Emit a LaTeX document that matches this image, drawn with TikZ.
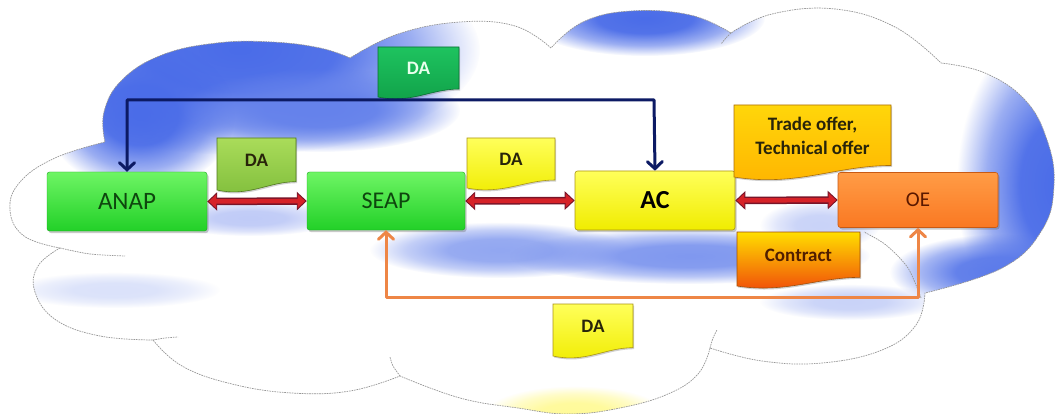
\documentclass[tikz,border=0pt]{standalone}
\usepackage{fontspec}
\setmainfont{Carlito}
\usetikzlibrary{arrows.meta,shadows,fadings}

% radial fading: solid core, soft rim reaching full transparency at the path's edge
\pgfdeclareradialshading{blobprofile}{\pgfpointorigin}{color(0bp)=(white); color(10bp)=(white!95!black); color(18bp)=(white!55!black); color(25bp)=(black); color(50bp)=(black)}
\pgfdeclarefading{softblob}{\pgfuseshading{blobprofile}}

\definecolor{cloudblue}{RGB}{74,108,232}
\definecolor{cloudline}{RGB}{150,150,150}
\definecolor{navyline}{RGB}{12,26,100}
\definecolor{orangeline}{RGB}{238,134,70}
\definecolor{arrowred}{RGB}{214,34,40}
\definecolor{arrowdark}{RGB}{120,20,40}
\definecolor{greentop}{RGB}{110,245,100}
\definecolor{greenbot}{RGB}{34,208,40}
\definecolor{greentext}{RGB}{14,70,14}
\definecolor{yellowtop}{RGB}{255,255,90}
\definecolor{yellowbot}{RGB}{240,236,0}
\definecolor{yellowedge}{RGB}{170,150,20}
\definecolor{orangetop}{RGB}{255,156,70}
\definecolor{orangebot}{RGB}{250,120,34}
\definecolor{orangeedge}{RGB}{200,90,20}
\definecolor{oetext}{RGB}{90,24,0}
\definecolor{dagtop}{RGB}{30,195,95}
\definecolor{dagbot}{RGB}{16,160,72}
\definecolor{dagedge}{RGB}{10,110,50}
\definecolor{daltop}{RGB}{170,220,90}
\definecolor{dalbot}{RGB}{128,190,60}
\definecolor{daledge}{RGB}{80,120,30}
\definecolor{tradetop}{RGB}{255,214,10}
\definecolor{tradebot}{RGB}{255,180,0}
\definecolor{tradeedge}{RGB}{170,110,10}
\definecolor{contop}{RGB}{255,222,0}
\definecolor{conmid}{RGB}{255,165,0}
\definecolor{conbot}{RGB}{240,70,10}
\definecolor{conedge}{RGB}{160,80,10}
\definecolor{doctextdark}{RGB}{40,36,10}
\definecolor{datextlight}{RGB}{232,255,236}
\definecolor{contracttext}{RGB}{80,30,0}

% cloud outline, one smooth arc per lobe
\newcommand\cloudshape{%
  plot[smooth,tension=0.7] coordinates {(60,248) (24,236) (10,210) (20,182) (55,158) (105,142)}
  -- plot[smooth,tension=0.7] coordinates {(105,142) (104,112) (122,80) (162,55) (217,43) (272,42) (320,48) (350,58)}
  -- plot[smooth,tension=0.7] coordinates {(350,58) (398,34) (460,22) (515,26) (551,48)}
  -- plot[smooth,tension=0.7] coordinates {(551,48) (583,22) (631,11) (690,15) (731,33)}
  -- plot[smooth,tension=0.7] coordinates {(731,33) (772,14) (835,9) (895,27) (941,63)}
  -- plot[smooth,tension=0.7] coordinates {(941,63) (985,73) (1025,100) (1047,140) (1054,185) (1042,230) (1002,268) (925,293)}
  -- plot[smooth,tension=0.7] coordinates {(925,293) (916,325) (882,350) (822,363) (762,361) (710,348)}
  -- plot[smooth,tension=0.7] coordinates {(710,348) (698,374) (668,394) (620,408) (568,414) (518,408) (460,398) (400,376)}
  -- plot[smooth,tension=0.7] coordinates {(400,376) (350,391) (292,393) (232,384) (182,366) (153,340)}
  -- plot[smooth,tension=0.7] coordinates {(153,340) (100,336) (56,320) (35,292) (38,266) (60,248)}
  -- cycle}

% soft coloured patch fading out to its rim: centre, radii, colour
\newcommand\blob[5]{\fill[#5, path fading=softblob] (#1,#2) ellipse ({#3} and {#4});}

% document shape with a wavy lower edge: name, x0, y0, x1, y1, fill style, text colour, text
\newcommand\docbox[8]{%
  \shade[docshape,#6] (#2,#3) -- (#4,#3) -- (#4,{#5-0.16*(#5-#3)})
    .. controls ({#4-0.35*(#4-#2)},{#5-0.16*(#5-#3)}) and ({#2+0.4*(#4-#2)},{#5+0.14*(#5-#3)}) .. (#2,#5) -- cycle;
  \node[doctext, text=#7] (#1) at ({(#2+#4)/2},{#3+0.43*(#5-#3)}) {#8};
}

\tikzset{
  cloudedge/.style={draw=cloudline, line width=0.7pt, dash pattern=on 1.6pt off 0.9pt},
  box/.style={rectangle, rounded corners=2.5pt, inner sep=0pt,
    drop shadow={shadow xshift=1.5pt, shadow yshift=-2pt, opacity=0.35, fill=black!60}},
  greenbox/.style={box, top color=greentop, bottom color=greenbot, draw=greenbot!80!black,
    line width=0.4pt, text=greentext},
  yellowbox/.style={box, top color=yellowtop, bottom color=yellowbot, draw=yellowedge, line width=0.6pt},
  orangebox/.style={box, top color=orangetop, bottom color=orangebot, draw=orangeedge,
    line width=0.6pt, text=oetext},
  docshape/.style={line width=0.6pt, drop shadow={shadow xshift=1.2pt, shadow yshift=-1.5pt, opacity=0.3, fill=black!60}},
  doctext/.style={inner sep=0pt, align=center, font=\bfseries\fontsize{19}{24}\selectfont},
  dagreen/.style={top color=dagtop, bottom color=dagbot, draw=dagedge},
  dalight/.style={top color=daltop, bottom color=dalbot, draw=daledge},
  dayellow/.style={top color=yellowtop, bottom color=yellowbot, draw=yellowedge},
  tradefill/.style={top color=tradetop, bottom color=tradebot, draw=tradeedge},
  contractfill/.style={top color=contop, middle color=conmid, bottom color=conbot, draw=conedge},
  linkarrow/.style={line width=3pt, line join=round, {Straight Barb[length=7pt,width=15pt,line cap=round]}-{Straight Barb[length=7pt,width=15pt,line cap=round]}},
  redback/.style={line width=7.5pt, draw=arrowdark, {Triangle[length=10pt,width=18pt]}-{Triangle[length=10pt,width=18pt]}},
  redfront/.style={line width=4.5pt, draw=arrowred, shorten <=1.6pt, shorten >=1.6pt, {Triangle[length=7.5pt,width=13.5pt]}-{Triangle[length=7.5pt,width=13.5pt]}}
}

\begin{document}
\begin{tikzpicture}[x=1pt,y=-1pt]
\useasboundingbox (0,0) rectangle (1062,414);
\fill[white] (0,0) rectangle (1062,414);

% cloud body
\fill[white] \cloudshape;
\begin{scope}
  \clip \cloudshape;
  \blob{240}{50}{240}{105}{cloudblue}
  \blob{140}{115}{95}{75}{cloudblue}
  \blob{320}{110}{140}{42}{cloudblue!85}
  \blob{645}{18}{120}{38}{cloudblue}
  \blob{1062}{185}{105}{165}{cloudblue}
  \blob{1000}{272}{110}{38}{cloudblue!90}
  \blob{500}{250}{130}{28}{cloudblue!60}
  \blob{690}{256}{180}{28}{cloudblue!70}
  \blob{820}{225}{60}{25}{cloudblue!30}
  \blob{850}{302}{90}{18}{cloudblue!30}
  \blob{250}{218}{90}{18}{cloudblue!35}
  \blob{115}{290}{105}{18}{cloudblue!20}
  \blob{575}{414}{90}{28}{yellow!40}
\end{scope}
\path[cloudedge] \cloudshape;
% inner arcs of the cloud lobes
\draw[cloudedge] plot[smooth] coordinates {(60,248) (90,254) (125,256)};
\draw[cloudedge] plot[smooth] coordinates {(921,298) (908,268) (886,245) (864,232)};
\draw[cloudedge] plot[smooth] coordinates {(710,348) (713,338) (717,330)};
\draw[cloudedge] plot[smooth] coordinates {(400,376) (393,366) (390,357)};
\draw[cloudedge] plot[smooth] coordinates {(153,340) (165,338) (178,337)};
\draw[cloudedge] plot[smooth] coordinates {(731,33) (726,38) (721,44)};

% main parties
\node[greenbox, minimum width=160pt, minimum height=59pt, font=\fontsize{25}{28}\selectfont] (anap) at (127,201.5) {ANAP};
\node[greenbox, minimum width=158pt, minimum height=58pt, font=\fontsize{24}{28}\selectfont] (seap) at (386,201) {SEAP};
\node[yellowbox, minimum width=160pt, minimum height=59pt, font=\bfseries\fontsize{26}{30}\selectfont] (ac) at (655,200.5) {AC};
\node[orangebox, minimum width=160pt, minimum height=55pt, font=\fontsize{21}{24}\selectfont] (oe) at (918,200) {OE};

% documents exchanged
\docbox{datop}{378}{47}{459}{97}{dagreen}{datextlight}{DA}
\docbox{daleft}{217}{138}{296}{190}{dalight}{doctextdark}{DA}
\docbox{damid}{467}{138}{555}{188}{dayellow}{doctextdark}{DA}
\docbox{offer}{734}{105}{891}{177}{tradefill}{doctextdark}{Trade offer,\\Technical offer}
\docbox{contract}{737}{232}{860}{286}{contractfill}{contracttext}{Contract}
\docbox{dabot}{553}{304}{633}{356}{dayellow}{doctextdark}{DA}

% two-way exchanges between neighbours
\foreach \a/\b in {anap/seap, seap/ac, ac/oe}{
  \draw[redback] (\a.east) -- (\b.west);
  \draw[redfront] (\a.east) -- (\b.west);
}

% notification from AC to ANAP
\coordinate (navl) at (127,100);
\coordinate (navr) at (654,100);
\draw[linkarrow, navyline] (anap.north) -- (navl) -- (navr) -- (ac.north);

% link between SEAP and OE
\coordinate (orl) at (386,297);
\coordinate (orr) at (918,297);
\draw[linkarrow, orangeline] (seap.south) -- (orl) -- (orr) -- (oe.south);
\end{tikzpicture}
\end{document}
